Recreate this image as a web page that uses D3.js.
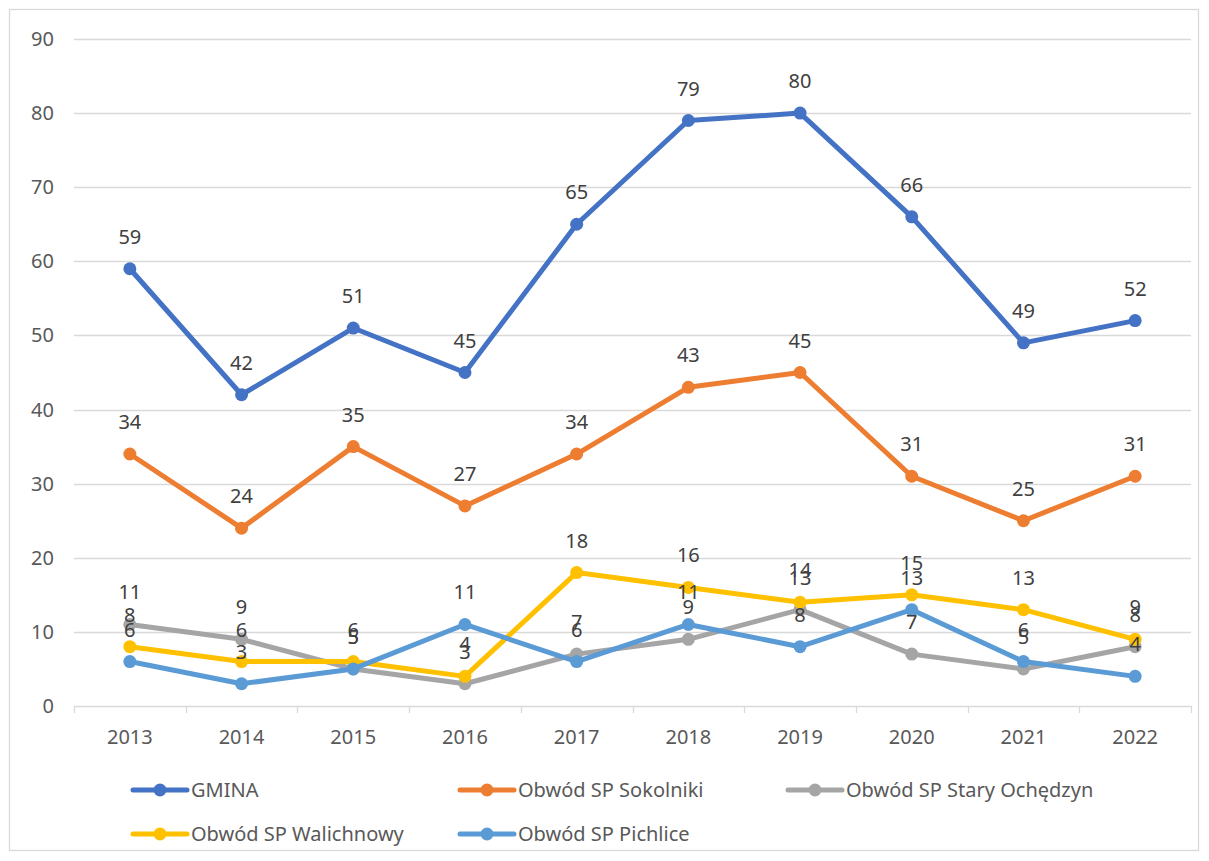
<!DOCTYPE html>
<html><head><meta charset="utf-8">
<script src="https://cdn.jsdelivr.net/npm/d3@7"></script>
<style>body{margin:0;background:#fff}svg{display:block}text{font-family:"Noto Sans",sans-serif}</style>
</head><body><svg id="c" width="1209" height="861"></svg>
<script>
const years = ["2013","2014","2015","2016","2017","2018","2019","2020","2021","2022"];
const seriesNames = ["GMINA","Obwód SP Sokolniki","Obwód SP Stary Ochędzyn","Obwód SP Walichnowy","Obwód SP Pichlice"];
const colors = ["#4472C4","#ED7D31","#A5A5A5","#FFC000","#5B9BD5"];
const gmina = [59,42,51,45,65,79,80,66,49,52];
const sokolniki = [34,24,35,27,34,43,45,31,25,31];
const staryOchedzyn = [11,9,5,3,7,9,13,7,5,8];
const walichnowy = [8,6,6,4,18,16,14,15,13,9];
const pichlice = [6,3,5,11,6,11,8,13,6,4];
const yTicks = [0,10,20,30,40,50,60,70,80,90];
const allValues = [gmina,sokolniki,staryOchedzyn,walichnowy,pichlice];

const svg = d3.select("#c");
svg.append("rect").attr("x",9.5).attr("y",9.5).attr("width",1189).attr("height",841)
  .attr("fill","#fff").attr("stroke","#d9d9d9").attr("stroke-width",1.3);

const x = d3.scaleBand().domain(years).range([74,1191]);
const y = d3.scaleLinear().domain([0,90]).range([706,39]);

svg.append("g").selectAll("line").data(yTicks.filter(d=>d>0)).join("line")
  .attr("x1",74).attr("x2",1191).attr("y1",d=>Math.round(y(d))+0.5).attr("y2",d=>Math.round(y(d))+0.5)
  .attr("stroke","#d9d9d9").attr("stroke-width",1.3);

svg.append("g").selectAll("text").data(yTicks).join("text")
  .attr("x",54).attr("y",d=>y(d)).attr("dy","0.35em").attr("text-anchor","end")
  .attr("font-size",20).attr("fill","#595959").text(d=>d);

const xa = svg.append("g");
xa.append("line").attr("x1",74).attr("x2",1191).attr("y1",706.5).attr("y2",706.5).attr("stroke","#d9d9d9").attr("stroke-width",1.3);
const bounds = years.map(d=>x(d)).concat([x.range()[1]]);
xa.selectAll("line.t").data(bounds).join("line").attr("class","t")
  .attr("x1",d=>Math.round(d)+0.5).attr("x2",d=>Math.round(d)+0.5).attr("y1",706).attr("y2",713)
  .attr("stroke","#d9d9d9").attr("stroke-width",1.3);
xa.selectAll("text").data(years).join("text")
  .attr("x",d=>x(d)+x.bandwidth()/2).attr("y",737).attr("dy","0.35em").attr("text-anchor","middle")
  .attr("font-size",20).attr("fill","#595959").text(d=>d);

const cx = d=>x(d)+x.bandwidth()/2;
const line = d3.line().x((d,i)=>cx(years[i])).y(d=>y(d));

allValues.forEach((vals,si)=>{
  const g = svg.append("g");
  g.append("path").datum(vals).attr("d",line).attr("fill","none")
    .attr("stroke",colors[si]).attr("stroke-width",5).attr("stroke-linejoin","round").attr("stroke-linecap","round");
  g.selectAll("circle").data(vals).join("circle")
    .attr("cx",(d,i)=>cx(years[i])).attr("cy",d=>y(d)).attr("r",6.5).attr("fill",colors[si]);
});
allValues.forEach((vals,si)=>{
  svg.append("g").selectAll("text").data(vals).join("text")
    .attr("x",(d,i)=>cx(years[i])).attr("y",d=>y(d)-32).attr("dy","0.35em").attr("text-anchor","middle")
    .attr("font-size",20).attr("fill","#404040").text(d=>d);
});

const legendPos = [[133,790],[460,790],[788,790],[133,834],[460,834]];
seriesNames.forEach((n,i)=>{
  const [lx,ly] = legendPos[i];
  const g = svg.append("g");
  g.append("line").attr("x1",lx).attr("x2",lx+54).attr("y1",ly).attr("y2",ly)
    .attr("stroke",colors[i]).attr("stroke-width",5).attr("stroke-linecap","round");
  g.append("circle").attr("cx",lx+27).attr("cy",ly).attr("r",6.5).attr("fill",colors[i]);
  g.append("text").attr("x",lx+58).attr("y",ly).attr("dy","0.35em").attr("font-size",20)
    .attr("fill","#595959").text(n);
});
</script></body></html>
